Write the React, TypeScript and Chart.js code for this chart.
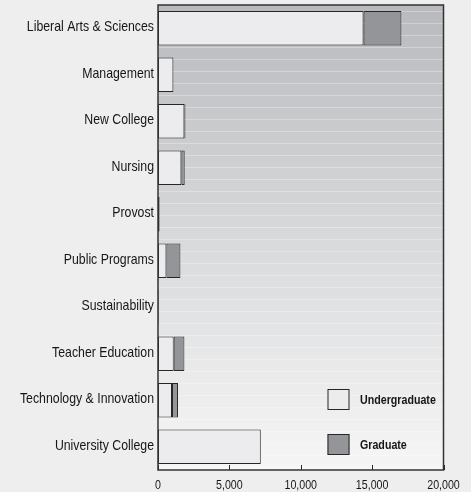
import React, { useEffect, useRef } from 'react';
import { Chart, registerables } from 'chart.js';

Chart.register(...registerables);

const categories = [
  'Liberal Arts & Sciences',
  'Management',
  'New College',
  'Nursing',
  'Provost',
  'Public Programs',
  'Sustainability',
  'Teacher Education',
  'Technology & Innovation',
  'University College',
];
const undergraduate = [14400, 1080, 1850, 1640, null, 590, null, 1100, 980, 7200];
const graduate = [2650, null, 70, 230, 110, 980, 40, 750, 420, null];
const xTicks = [0, 5000, 10000, 15000, 20000];
const seriesNames = ['Undergraduate', 'Graduate'];

const FONT = "'Liberation Sans', Arial, sans-serif";
const NARROW = 0.82;
const UG_COLOR = '#ececee';
const GR_COLOR = '#939598';
const EDGE = '#262626';
const TEXT = '#161616';

function narrowText(ctx: any, text: string, x: number, y: number, align: 'left' | 'right' | 'center', font: string) {
  ctx.save();
  ctx.font = font;
  ctx.textBaseline = 'middle';
  ctx.textAlign = align;
  ctx.fillStyle = TEXT;
  ctx.translate(x, y);
  ctx.scale(NARROW, 1);
  ctx.fillText(text, 0, 0);
  ctx.restore();
}

const decor = {
  id: 'decor',
  beforeDatasetsDraw(chart: any) {
    const { ctx, chartArea: a } = chart;
    ctx.save();
    const g = ctx.createLinearGradient(0, a.top, 0, a.bottom);
    g.addColorStop(0, '#b9babd');
    g.addColorStop(0.5, '#d8d9db');
    g.addColorStop(1, '#f6f6f6');
    ctx.fillStyle = g;
    ctx.fillRect(a.left, a.top, a.right - a.left, a.bottom - a.top);
    ctx.strokeStyle = 'rgba(255,255,255,0.3)';
    ctx.lineWidth = 1;
    for (let y = a.top + 6; y < a.bottom; y += 12) {
      ctx.beginPath();
      ctx.moveTo(a.left, Math.round(y) + 0.5);
      ctx.lineTo(a.right, Math.round(y) + 0.5);
      ctx.stroke();
    }
    ctx.restore();
  },
  afterDatasetsDraw(chart: any) {
    const { ctx, chartArea: a } = chart;
    const xs = chart.scales.x;
    const ys = chart.scales.y;
    ctx.save();
    // inner tick marks
    ctx.strokeStyle = EDGE;
    ctx.lineWidth = 1;
    xTicks.forEach((v) => {
      const x = Math.round(xs.getPixelForValue(v)) + 0.5;
      ctx.beginPath();
      ctx.moveTo(x, a.bottom - 5);
      ctx.lineTo(x, a.bottom);
      ctx.stroke();
    });
    // border
    ctx.strokeStyle = '#333333';
    ctx.lineWidth = 1.5;
    ctx.strokeRect(a.left, a.top, a.right - a.left, a.bottom - a.top);
    ctx.restore();

    // x tick labels
    xTicks.forEach((v) => {
      narrowText(ctx, v.toLocaleString('en-US'), xs.getPixelForValue(v), a.bottom + 15.5, 'center', `13px ${FONT}`);
    });
    // y category labels
    categories.forEach((c, i) => {
      narrowText(ctx, c, a.left - 4, ys.getPixelForTick(i) - 1, 'right', `15px ${FONT}`);
    });

    // legend
    const boxL = a.right - 116;
    const textX = a.right - 83.5;
    const rows = [a.bottom - 81, a.bottom - 36];
    chart.data.datasets.forEach((ds: any, i: number) => {
      const top = rows[i];
      ctx.save();
      ctx.fillStyle = ds.backgroundColor;
      ctx.fillRect(boxL, top, 22, 21);
      ctx.strokeStyle = EDGE;
      ctx.lineWidth = 1;
      ctx.strokeRect(boxL + 0.5, top + 0.5, 21, 20);
      ctx.restore();
      narrowText(ctx, ds.label, textX, top + 11, 'left', `bold 13px ${FONT}`);
    });
  },
};

export default function App() {
  const ref = useRef<HTMLCanvasElement | null>(null);
  useEffect(() => {
    document.body.style.margin = '0';
    document.body.style.background = '#eeeeee';
    const chart = new Chart(ref.current as HTMLCanvasElement, {
      type: 'bar',
      data: {
        labels: categories,
        datasets: [
          {
            label: seriesNames[0],
            data: undergraduate as any,
            backgroundColor: UG_COLOR,
            borderColor: EDGE,
            borderWidth: 1,
            borderSkipped: false,
            barPercentage: 0.745,
            categoryPercentage: 1,
          },
          {
            label: seriesNames[1],
            data: graduate as any,
            backgroundColor: GR_COLOR,
            borderColor: EDGE,
            borderWidth: 1,
            borderSkipped: false,
            barPercentage: 0.745,
            categoryPercentage: 1,
          },
        ],
      },
      options: {
        indexAxis: 'y',
        animation: false,
        responsive: true,
        maintainAspectRatio: false,
        layout: { padding: { top: 5, right: 27.5, left: 0, bottom: 0 } },
        plugins: { legend: { display: false }, tooltip: { enabled: false } },
        scales: {
          x: {
            stacked: true,
            min: 0,
            max: 20000,
            grid: { display: false, drawTicks: false },
            border: { display: false },
            afterBuildTicks: (s: any) => {
              s.ticks = xTicks.map((v) => ({ value: v }));
            },
            afterFit: (s: any) => {
              s.height = 22;
            },
            ticks: { display: false },
          },
          y: {
            stacked: true,
            grid: { display: false, drawTicks: false },
            border: { display: false },
            afterFit: (s: any) => {
              s.width = 158;
            },
            ticks: { display: false, autoSkip: false },
          },
        },
      },
      plugins: [decor],
    });
    return () => chart.destroy();
  }, []);
  return (
    <div style={{ position: 'absolute', left: 0, top: 0, width: 471, height: 492, background: '#eeeeee' }}>
      <canvas ref={ref} />
    </div>
  );
}
